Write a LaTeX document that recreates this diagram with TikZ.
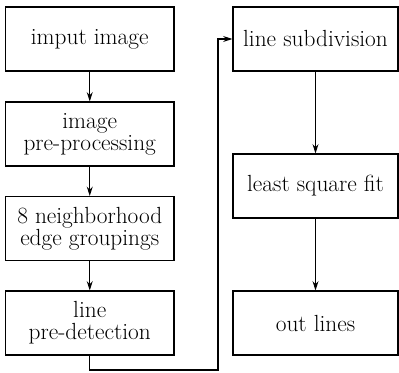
\documentclass[tikz,border=0pt]{standalone}
\usetikzlibrary{arrows.meta}
\begin{document}
\begin{tikzpicture}[x=0.75pt,y=-0.75pt,
    stepbox/.style={draw, line width=0.9pt, align=center, inner sep=0pt,
      minimum width=126.4pt, minimum height=48pt,
      font=\fontsize{17.5}{16.5}\selectfont},
    widebox/.style={stepbox, minimum width=123.75pt},
    flow/.style={-{Stealth[length=7pt,width=4.5pt]}, line width=0.8pt}]
    \useasboundingbox (0,0) rectangle (399,373);
    % left column
    \node[stepbox] (input) at (89.75,39) {imput image};
    \node[stepbox] (prep) at (89.75,134) {image\\pre-processing};
    \node[stepbox] (group) at (89.75,228.5) {8 neighborhood\\edge groupings};
    \node[stepbox] (predet) at (89.75,323) {line\\pre-detection};
    % right column
    \node[widebox] (subdiv) at (315.5,39) {line subdivision};
    \node[widebox] (lsq) at (315.5,186) {least square fit};
    \node[widebox] (out) at (315.5,323) {out lines};
    \coordinate (turn) at (218,370);
    \draw[flow] (input) -- (prep);
    \draw[flow] (prep) -- (group);
    \draw[flow] (group) -- (predet);
    \draw[flow] (predet.south) |- (turn) |- (subdiv.west);
    \draw[flow] (subdiv) -- (lsq);
    \draw[flow] (lsq) -- (out);
  \end{tikzpicture}
\end{document}
